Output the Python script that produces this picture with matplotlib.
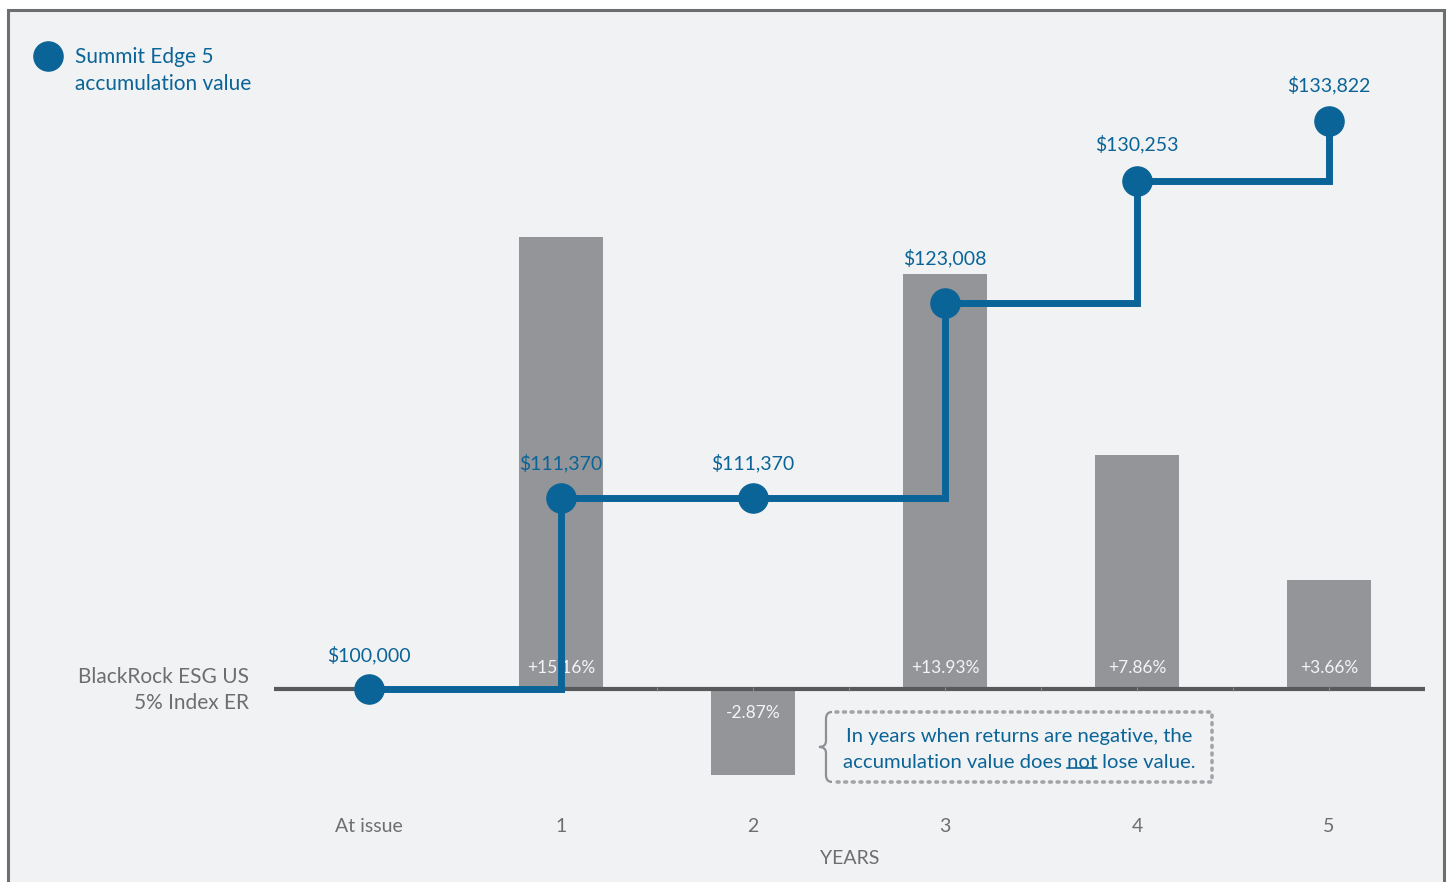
import numpy as np
import matplotlib
matplotlib.use("Agg")
import matplotlib.pyplot as plt
from matplotlib.patches import Rectangle, PathPatch
from matplotlib.path import Path
from matplotlib.lines import Line2D

plt.rcParams['font.family'] = ['Lato', 'DejaVu Sans']

# data
periods = ["At issue", "1", "2", "3", "4", "5"]
years = [1, 2, 3, 4, 5]
index_returns = [15.16, -2.87, 13.93, 7.86, 3.66]
return_labels = ["+15.16%", "-2.87%", "+13.93%", "+7.86%", "+3.66%"]
acc_values = [100000, 111370, 111370, 123008, 130253, 133822]

# label offsets above markers (points)
val_offsets = [24.5, 25, 25, 32, 26.5, 26.5]

blue = '#0b6497'
bar_grey = '#939598'
axis_grey = '#58595b'
text_grey = '#6d6e70'
bg = '#f1f2f4'

W, H = 1450, 882
fig = plt.figure(figsize=(W / 100, H / 100), dpi=100, facecolor='white')

# panel background + border
fig.add_artist(Rectangle((8 / W, -0.05), (1444 - 8) / W, (H - 10) / H + 0.05,
                         transform=fig.transFigure, facecolor=bg,
                         edgecolor='#6d6e70', lw=2.2, zorder=-10))

# axes: x from 274px to 1425px, y from 10px to 800px
ax = fig.add_axes([274 / W, (H - 800) / H, (1425 - 274) / W, 790 / H])
ax.set_facecolor('none')
for s in ax.spines.values():
    s.set_visible(False)
ax.set_xlim(-0.495, 5.5)
ax.set_ylim(-3.725, 22.785)

ax.bar(years, index_returns, width=0.4375, color=bar_grey, zorder=1)
ax.axhline(0, color=axis_grey, lw=3, zorder=2)
ax.vlines(np.arange(1.5, 5.01, 0.5), -0.06, 0.06, color='#8d8e90', lw=0.7, zorder=3)

for x, r, lab in zip(years, index_returns, return_labels):
    off = 15 if r > 0 else -17
    ax.annotate(lab, (x, 0), xytext=(0, off), textcoords='offset points',
                ha='center', va='center', fontsize=12.5, color='#f4f4f6', zorder=4)

ax.set_xticks(range(len(periods)))
ax.set_xticklabels(periods, fontsize=14, color=text_grey)
ax.tick_params(axis='x', length=0, pad=13)
ax.set_yticks([])
ax.set_xlabel("YEARS", fontsize=14, color=text_grey, labelpad=11)

# accumulation value line
ax2 = ax.twinx()
ax2.set_ylim(93385, 140465)
ax2.set_yticks([])
for s in ax2.spines.values():
    s.set_visible(False)
x_pts = np.arange(len(acc_values))
ax2.plot(x_pts, acc_values, drawstyle='steps-post', color=blue, lw=5,
         solid_joinstyle='miter', zorder=5)
ax2.plot(x_pts, acc_values, 'o', color=blue, ms=21, zorder=6)
for x, v, off in zip(x_pts, acc_values, val_offsets):
    ax2.annotate("${:,}".format(v), (x, v), xytext=(0, off), textcoords='offset points',
                 ha='center', va='center', fontsize=14, color=blue)

# note box with brace
x0, x1 = 2.38, 4.39
y0, y1 = -0.77, -3.12
ax.plot([x0 + 0.05, x1, x1, x0 + 0.05], [y0, y0, y1, y1], color='#a2a4a7',
        lw=2.6, ls=(0, (0.5, 1.6)), dash_capstyle='round', zorder=3)

px_x, px_y = 1 / 192, 1 / 29.8  # data units per pixel
ym = (y0 + y1) / 2
def bp(dx, dy):
    return (x0 + dx * px_x, ym - dy * px_y)
brace = Path([bp(6, -35), bp(0, -35), bp(0, -28), bp(0, -6), bp(0, 0), bp(-7, 0),
              bp(0, 0), bp(0, 6), bp(0, 28), bp(0, 35), bp(6, 35)],
             [Path.MOVETO, Path.CURVE3, Path.CURVE3, Path.LINETO, Path.CURVE3, Path.CURVE3,
              Path.CURVE3, Path.CURVE3, Path.LINETO, Path.CURVE3, Path.CURVE3])
ax.add_patch(PathPatch(brace, facecolor='none', edgecolor='#8e9093', lw=1.6, zorder=3))

xc = (x0 + x1) / 2
ax.text(xc, -1.58, "In years when returns are negative, the", fontsize=14.6,
        color=blue, ha='center', va='center')
line2 = ax.text(xc, -2.45, "accumulation value does not lose value.", fontsize=14.6,
                color=blue, ha='center', va='center')

# underline "not"
fig.canvas.draw()
rend = fig.canvas.get_renderer()
bb = line2.get_window_extent(rend)
def _w(s):
    t = ax.text(0, 0, s, fontsize=14.6)
    w = t.get_window_extent(rend).width
    t.remove()
    return w
space = _w("a a") - _w("aa")
start = bb.x0 + _w("accumulation value does") + space
end = start + _w("not")
inv = ax.transData.inverted()
ya = bb.y0 + 3
p0 = inv.transform((start, ya))
p1 = inv.transform((end, ya))
ax.plot([p0[0], p1[0]], [p0[1], p1[1]], color=blue, lw=1.2, zorder=4)

# legend
fig.add_artist(Line2D([48 / W], [1 - 56 / H], marker='o', ms=21, color=blue,
                      transform=fig.transFigure))
fig.text(75 / W, 1 - 57 / H, "Summit Edge 5", fontsize=15, color=blue,
         ha='left', va='center')
fig.text(75 / W, 1 - 84 / H, "accumulation value", fontsize=15, color=blue,
         ha='left', va='center')

# left series label
fig.text(249 / W, 1 - 677 / H, "BlackRock ESG US", fontsize=15, color=text_grey,
         ha='right', va='center')
fig.text(249 / W, 1 - 703 / H, "5% Index ER", fontsize=15, color=text_grey,
         ha='right', va='center')

fig.savefig("out.png", dpi=100, facecolor='white')
